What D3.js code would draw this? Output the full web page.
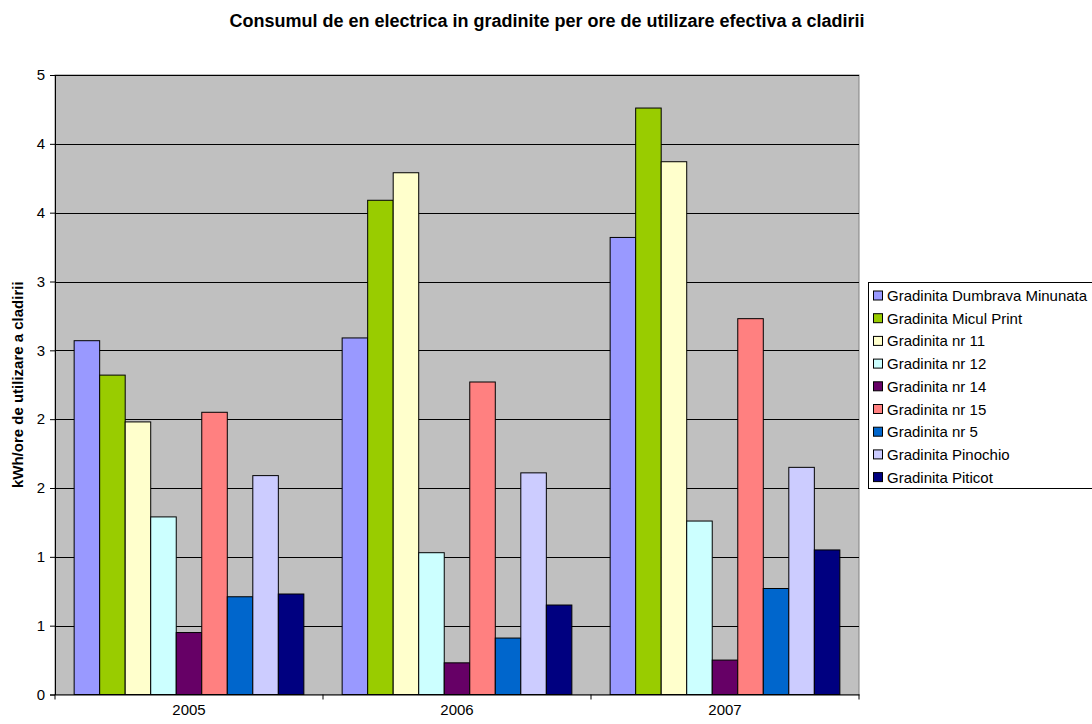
<!DOCTYPE html>
<html>
<head>
<meta charset="utf-8">
<script src="https://d3js.org/d3.v7.min.js"></script>
<style>
  body { margin: 0; background: #fff; }
  text { font-family: "Liberation Sans", Arial, sans-serif; }
</style>
</head>
<body>
<svg width="1092" height="724"></svg>
<script>
var years = ["2005", "2006", "2007"];
var seriesNames = [
  "Gradinita Dumbrava Minunata", "Gradinita Micul Print", "Gradinita nr 11",
  "Gradinita nr 12", "Gradinita nr 14", "Gradinita nr 15",
  "Gradinita nr 5", "Gradinita Pinochio", "Gradinita Piticot"
];
var seriesColors = ["#9999ff", "#99cc00", "#ffffcc", "#ccffff", "#660066",
                    "#ff8080", "#0066cc", "#ccccff", "#000080"];
// values per series, in the order of years
var dumbrava = [2.57, 2.59, 3.32];
var miculPrint = [2.32, 3.59, 4.26];
var nr11 = [1.98, 3.79, 3.87];
var nr12 = [1.29, 1.03, 1.26];
var nr14 = [0.45, 0.23, 0.25];
var nr15 = [2.05, 2.27, 2.73];
var nr5 = [0.71, 0.41, 0.77];
var pinochio = [1.59, 1.61, 1.65];
var piticot = [0.73, 0.65, 1.05];
var yTicks = [0, 0.5, 1, 1.5, 2, 2.5, 3, 3.5, 4, 4.5];

var values = [dumbrava, miculPrint, nr11, nr12, nr14, nr15, nr5, pinochio, piticot];

var svg = d3.select("svg");
var plotL = 55, plotR = 859, plotT = 75, plotB = 694.5;

var x0 = d3.scaleBand().domain(years).range([plotL, plotR]).paddingInner(0).paddingOuter(0);
var bw = x0.bandwidth();
var gap = bw / 10.5 * 1.5;
var x1 = d3.scaleBand().domain(seriesNames).range([gap / 2, bw - gap / 2]).padding(0);
var y = d3.scaleLinear().domain([0, 4.5]).range([plotB, plotT]);

// plot area
svg.append("rect")
  .attr("x", plotL).attr("y", plotT)
  .attr("width", plotR - plotL).attr("height", plotB - plotT)
  .attr("fill", "#c0c0c0").attr("stroke", "#808080");

// gridlines
svg.append("g")
  .selectAll("line")
  .data(yTicks.slice(1))
  .enter().append("line")
  .attr("x1", plotL).attr("x2", plotR)
  .attr("y1", function(d) { return Math.round(y(d)) + 0.5; })
  .attr("y2", function(d) { return Math.round(y(d)) + 0.5; })
  .attr("stroke", "#000").attr("stroke-width", 1);

// bars
var groups = svg.append("g").selectAll("g")
  .data(years)
  .enter().append("g")
  .attr("transform", function(d) { return "translate(" + x0(d) + ",0)"; });

groups.selectAll("rect")
  .data(function(yr, yi) {
    return seriesNames.map(function(s, si) {
      return { name: s, value: values[si][yi], color: seriesColors[si] };
    });
  })
  .enter().append("rect")
  .attr("x", function(d) { return x1(d.name); })
  .attr("y", function(d) { return y(d.value); })
  .attr("width", x1.bandwidth())
  .attr("height", function(d) { return plotB - y(d.value); })
  .attr("fill", function(d) { return d.color; })
  .attr("stroke", "#000").attr("stroke-width", 1);

// y axis (Excel shows 0.5 steps rounded to whole numbers)
var yAxis = d3.axisLeft(y)
  .tickValues(yTicks)
  .tickSize(5)
  .tickPadding(5)
  .tickFormat(function(d) { return String(Math.floor(d + 0.5)); });
svg.append("g")
  .attr("transform", "translate(" + plotL + ",0)")
  .call(yAxis)
  .call(function(g) {
    g.select(".domain").attr("stroke", "#000");
    g.selectAll("text").attr("font-size", 15).attr("fill", "#000")
      .attr("font-family", "Liberation Sans, Arial, sans-serif");
  });

// x axis
var xAxis = d3.axisBottom(x0).tickSize(0).tickPadding(10);
svg.append("g")
  .attr("transform", "translate(0," + plotB + ")")
  .call(xAxis)
  .call(function(g) {
    g.select(".domain").attr("stroke", "#000");
    g.selectAll("text").attr("font-size", 15).attr("fill", "#000")
      .attr("font-family", "Liberation Sans, Arial, sans-serif");
  });

// category boundary ticks
svg.append("g").selectAll("line")
  .data(years.concat(["end"]))
  .enter().append("line")
  .attr("x1", function(d, i) { return plotL + i * bw; })
  .attr("x2", function(d, i) { return plotL + i * bw; })
  .attr("y1", plotB).attr("y2", plotB + 5)
  .attr("stroke", "#000");

// title
svg.append("text")
  .attr("x", 547).attr("y", 27)
  .attr("text-anchor", "middle")
  .attr("font-size", 18).attr("font-weight", "bold")
  .text("Consumul de en electrica in gradinite per ore de utilizare efectiva a cladirii");

// y label
svg.append("text")
  .attr("transform", "translate(23," + (plotT + plotB) / 2 + ") rotate(-90)")
  .attr("text-anchor", "middle")
  .attr("font-size", 15).attr("font-weight", "bold")
  .text("kWh/ore de utilizare a cladirii");

// legend
var legend = svg.append("g").attr("transform", "translate(868,282)");
legend.append("rect")
  .attr("x", 0.5).attr("y", 0.5)
  .attr("width", 240).attr("height", 206)
  .attr("fill", "#fff").attr("stroke", "#000");

var items = legend.selectAll("g.item")
  .data(seriesNames)
  .enter().append("g")
  .attr("class", "item")
  .attr("transform", function(d, i) { return "translate(0," + (13.5 + i * 22.7) + ")"; });

items.append("rect")
  .attr("x", 5.5).attr("y", -4.5)
  .attr("width", 9).attr("height", 9)
  .attr("fill", function(d, i) { return seriesColors[i]; })
  .attr("stroke", "#000");

items.append("text")
  .attr("x", 19).attr("y", 5.5)
  .attr("font-size", 15)
  .text(function(d) { return d; });
</script>
</body>
</html>
